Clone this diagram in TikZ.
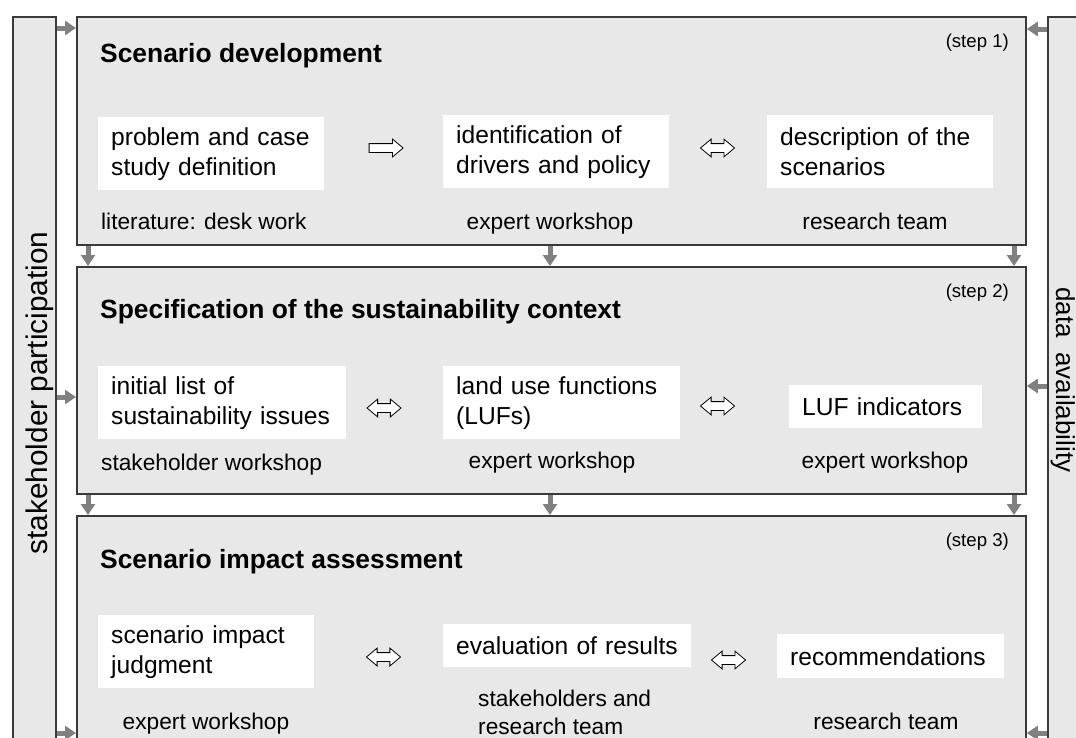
\documentclass[tikz,border=0pt]{standalone}
\usepackage{fontspec}
\setmainfont{Liberation Sans}
\usetikzlibrary{arrows.meta,shapes.arrows}
\definecolor{boxfill}{HTML}{E8E8E8}
\definecolor{boxline}{HTML}{3A3A3A}
\definecolor{arrgray}{HTML}{808080}
\newcommand{\titlefont}{\fontsize{26.4}{30}\selectfont\bfseries}
\newcommand{\boxfont}{\fontsize{24.6}{30}\selectfont}
\newcommand{\labfont}{\fontsize{22.7}{28}\selectfont}
\newcommand{\stepfont}{\fontsize{18.6}{22}\selectfont}
\newcommand{\oneline}[1]{\mbox{#1}}
\begin{document}
\begin{tikzpicture}[x=1pt,y=-1pt,
  stage/.style={draw=boxline, line width=1.8pt, fill=boxfill, anchor=north west, inner sep=0pt},
  sidebar/.style={draw=boxline, line width=1.5pt, fill=boxfill, anchor=north west, inner sep=0pt},
  garrow/.style={draw=arrgray, line width=5pt, -{Triangle[width=14pt,length=11pt]}},
  wbox/.style={fill=white, anchor=north west, inner xsep=13pt, inner ysep=0pt, align=left, font=\boxfont},
  title/.style={anchor=base west, inner sep=0pt, font=\titlefont},
  steplab/.style={anchor=base east, inner sep=0pt, font=\stepfont},
  lab/.style={anchor=base, inner sep=0pt, font=\labfont},
  labw/.style={anchor=base west, inner sep=0pt, font=\labfont, align=left},
  harrow/.style={shape=single arrow, draw=black, fill=white, line width=0.8pt, minimum height=34pt, inner xsep=0pt, inner ysep=4pt, single arrow head extend=4.5pt, single arrow tip angle=80},
  hdarrow/.style={shape=double arrow, draw=black, fill=white, line width=0.8pt, minimum height=34pt, inner xsep=0pt, inner ysep=4pt, double arrow head extend=4.5pt, double arrow tip angle=80},
  vtext/.style={anchor=base, inner sep=0pt}
]
\useasboundingbox (0,0) rectangle (1076,737);
\clip (0,0) rectangle (1076,737);

% side bars
\node[sidebar, minimum width=43pt, minimum height=760pt] (sp) at (12,16) {};
\node[sidebar, minimum width=60pt, minimum height=760pt] (da) at (1047,16) {};
\node[vtext, rotate=90, font=\fontsize{29.8}{30}\selectfont] (spt) at (47.5,393) {stakeholder participation};
\node[vtext, rotate=-90, font=\fontsize{26}{30}\selectfont] (dat) at (1056,380) {data\ \ availability};

% stage boxes
\node[stage, minimum width=949pt, minimum height=228pt] (b1) at (76,16) {};
\node[stage, minimum width=949pt, minimum height=227pt] (b2) at (76,266) {};
\node[stage, minimum width=949pt, minimum height=260pt] (b3) at (76,515) {};

% titles and steps
\node[title] (t1) at (100,62) {Scenario development};
\node[title] (t2) at (100,318) {Specification of the sustainability context};
\node[title] (t3) at (100,568) {Scenario impact assessment};
\node[steplab] (s1) at (1009,47) {(step 1)};
\node[steplab] (s2) at (1009,297) {(step 2)};
\node[steplab] (s3) at (1009,546) {(step 3)};

% row 1
\node[wbox, text width=200pt, minimum height=73pt] (w11) at (98,117) {\oneline{problem and case}\\\oneline{study definition}};
\node[wbox, text width=200pt, minimum height=73pt] (w12) at (443,115) {\oneline{identification of}\\\oneline{drivers and policy}};
\node[wbox, text width=200pt, minimum height=73pt] (w13) at (767,115) {\oneline{description of the}\\\oneline{scenarios}};
\node[harrow] (a11) at (383.5,148) {};
\node[hdarrow] (a12) at (717.5,148) {};
\node[labw] (l11) at (101,229) {literature: desk work};
\node[lab] (l12) at (550,229) {expert workshop};
\node[lab] (l13) at (875,229) {research team};

% row 2
\node[wbox, text width=222pt, minimum height=73pt] (w21) at (98,366) {\oneline{initial list of}\\\oneline{sustainability issues}};
\node[wbox, text width=211pt, minimum height=73pt] (w22) at (443,366) {\oneline{land use functions}\\\oneline{(LUFs)}};
\node[wbox, text width=167pt, minimum height=43pt] (w23) at (789,385) {\oneline{LUF indicators}};
\node[hdarrow] (a21) at (384,408) {};
\node[hdarrow] (a22) at (717.5,406) {};
\node[labw] (l21) at (101,470) {stakeholder workshop};
\node[lab] (l22) at (552,468) {expert workshop};
\node[lab] (l23) at (885,468) {expert workshop};

% row 3
\node[wbox, text width=190pt, minimum height=73pt] (w31) at (98,615) {\oneline{scenario impact}\\\oneline{judgment}};
\node[wbox, text width=222pt, minimum height=43pt] (w32) at (443,624) {\oneline{evaluation of results}};
\node[wbox, text width=201pt, minimum height=44pt] (w33) at (777,634) {\oneline{recommendations}};
\node[hdarrow] (a31) at (383.5,657) {};
\node[hdarrow] (a32) at (728.5,660) {};
\node[lab] (l31) at (206,729) {expert workshop};
\node[labw] (l32) at (478,734) {stakeholders and\\research team};
\node[lab] (l33) at (886,729) {research team};

% connector coordinates
\coordinate (xa) at (88,0);
\coordinate (xb) at (550,0);
\coordinate (xc) at (1014,0);
\coordinate (ya) at (0,28);
\coordinate (yb) at (0,397);
\coordinate (yc) at (0,733);
\coordinate (yra) at (0,29);
\coordinate (yrb) at (0,386);

% side arrows
\draw[garrow] (sp.east |- ya) -- (b1.west |- ya);
\draw[garrow] (sp.east |- yb) -- (b2.west |- yb);
\draw[garrow] (sp.east |- yc) -- (b3.west |- yc);
\draw[garrow] (da.west |- yra) -- (b1.east |- yra);
\draw[garrow] (da.west |- yrb) -- (b2.east |- yrb);
\draw[garrow] (da.west |- yc) -- (b3.east |- yc);

% down arrows
\draw[garrow] (b1.south -| xa) -- (b2.north -| xa);
\draw[garrow] (b1.south -| xb) -- (b2.north -| xb);
\draw[garrow] (b1.south -| xc) -- (b2.north -| xc);
\draw[garrow] (b2.south -| xa) -- (b3.north -| xa);
\draw[garrow] (b2.south -| xb) -- (b3.north -| xb);
\draw[garrow] (b2.south -| xc) -- (b3.north -| xc);
\end{tikzpicture}
\end{document}
